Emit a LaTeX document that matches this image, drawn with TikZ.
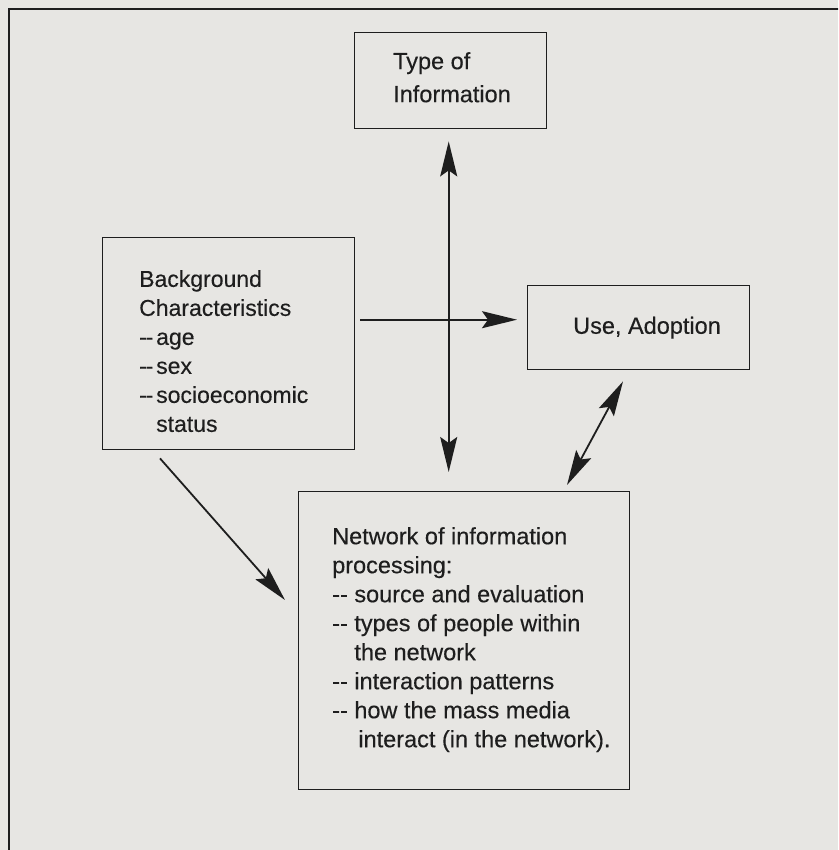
\documentclass[tikz,border=0pt]{standalone}
\usepackage{fontspec}
\setmainfont{Liberation Sans}[FakeBold=0.3]
\usepackage{xcolor}
\usetikzlibrary{calc,arrows.meta,positioning}
\definecolor{paper}{HTML}{E7E6E3}
\definecolor{ink}{HTML}{1E1E1E}
\newcommand{\dsh}{-{}-\ }
\newcommand{\sdsh}{\makebox[17pt][l]{-\kern-1.2pt-}}

\tikzset{
  box/.style={draw=ink, line width=1.4pt, rectangle, inner sep=0pt, anchor=north west},
  txt/.style={inner sep=0pt, anchor=north west, align=left, text=ink,
    font=\fontsize{23.5}{29}\selectfont},
  flow/.style={draw=ink, line width=1.8pt},
}

\begin{document}
\begin{tikzpicture}[x=1pt, y=-1pt, >={Stealth[length=35pt,width=17pt,inset=6pt]}]
  \useasboundingbox (0,0) rectangle (838,850);
  \fill[paper] (0,0) rectangle (838,850);
  \clip (0,0) rectangle (838,850);

  % ── page frame ──
  \draw[ink, line width=1.4pt] (9,880) -- (9,9) -- (880,9);

  % ── The boxes ──
  \node[box, minimum width=192pt, minimum height=96pt]  (type) at (354,32)  {};
  \node[box, minimum width=252pt, minimum height=212pt] (bg)   at (102,237) {};
  \node[box, minimum width=222pt, minimum height=84pt]  (use)  at (527,285) {};
  \node[box, minimum width=331pt, minimum height=298pt] (net)  at (298,491) {};

  % Box texts
  \node[txt, font=\fontsize{23.5}{33}\selectfont] (typetxt)
    at ([xshift=39pt,yshift=-20pt]type.north west) {Type of\\Information};
  \node[txt, font=\fontsize{23}{29}\selectfont] (bgtxt)
    at ([xshift=37pt,yshift=-33pt]bg.north west)
    {Background\\
     Characteristics\\
     \sdsh age\\
     \sdsh sex\\
     \sdsh socioeconomic\\
     \phantom{\sdsh}status};
  \node[txt, anchor=west] (usetxt) at ([xshift=46pt]use.west) {Use, Adoption};
  \node[txt] (nettxt) at ([xshift=34pt,yshift=-36pt]net.north west)
    {Network of information\\
     processing:\\
     \dsh source and evaluation\\
     \dsh types of people within\\
     \phantom{\dsh}the network\\
     \dsh interaction patterns\\
     \dsh how the mass media\\
     \phantom{\dsh}\hspace{4pt}interact (in the network).};

  % ── Connectors ──
  \draw[flow, <->] ($(type.south)+(-2,12)$) -- ($(type.south |- net.north)+(-2,-19)$);
  \draw[flow, ->] ($(bg.east |- use.west)+(5,-8)$) -- ($(use.west)+(-10,-8)$);
  \draw[flow, ->] ($(bg.south west)+(58,8)$) -- ($(net.north west)+(-13,109)$);
  \draw[flow, <->] ($(use.south west)+(96,11)$) -- ($(net.north west)+(269,-6)$);
\end{tikzpicture}
\end{document}
